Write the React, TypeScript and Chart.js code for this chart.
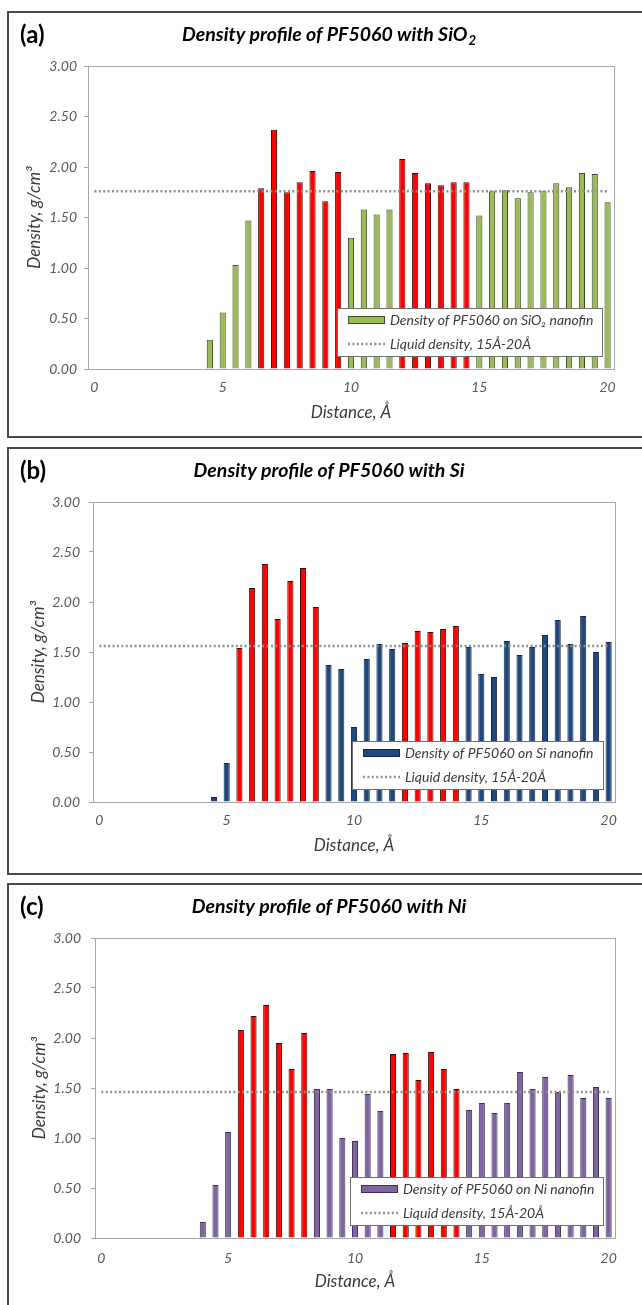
import { useEffect, useRef } from 'react';
import { Chart, registerables } from 'chart.js';

Chart.register(...registerables);

const FONT = 'Lato, "Open Sans", "DejaVu Sans", sans-serif';

// Distance slots along the fin normal (Å), one bar slot every 0.5 Å
const distanceLabels = [
  '0', '0.5', '1', '1.5', '2', '2.5', '3', '3.5', '4', '4.5',
  '5', '5.5', '6', '6.5', '7', '7.5', '8', '8.5', '9', '9.5',
  '10', '10.5', '11', '11.5', '12', '12.5', '13', '13.5', '14', '14.5',
  '15', '15.5', '16', '16.5', '17', '17.5', '18', '18.5', '19', '19.5', '20',
];
const labelledDistances = ['0', '5', '10', '15', '20'];

// Density axis, g/cm³
const densityMin = 0;
const densityMax = 3;
const densityStep = 0.5;

const liquidLabel = 'Liquid density, 15Å-20Å';

// (a) PF5060 on SiO2
const sio2Distance = [
  '4.5', '5', '5.5', '6', '6.5', '7', '7.5', '8', '8.5', '9', '9.5', '10', '10.5', '11', '11.5', '12',
  '12.5', '13', '13.5', '14', '14.5', '15', '15.5', '16', '16.5', '17', '17.5', '18', '18.5', '19', '19.5', '20',
];
const sio2Density = [
  0.29, 0.56, 1.03, 1.47, 1.79, 2.37, 1.75, 1.85, 1.96, 1.66, 1.95, 1.30, 1.58, 1.53, 1.58, 2.08,
  1.94, 1.84, 1.82, 1.85, 1.85, 1.52, 1.76, 1.77, 1.69, 1.75, 1.76, 1.84, 1.80, 1.94, 1.93, 1.65,
];
const sio2Layers = ['6.5', '7', '7.5', '8', '8.5', '9', '9.5', '12', '12.5', '13', '13.5', '14', '14.5'];
const sio2Liquid = 1.76;

// (b) PF5060 on Si
const siDistance = [
  '4.5', '5', '5.5', '6', '6.5', '7', '7.5', '8', '8.5', '9', '9.5', '10', '10.5', '11', '11.5', '12',
  '12.5', '13', '13.5', '14', '14.5', '15', '15.5', '16', '16.5', '17', '17.5', '18', '18.5', '19', '19.5', '20',
];
const siDensity = [
  0.05, 0.39, 1.54, 2.14, 2.38, 1.83, 2.21, 2.34, 1.95, 1.37, 1.33, 0.75, 1.43, 1.58, 1.53, 1.59,
  1.71, 1.70, 1.73, 1.76, 1.55, 1.28, 1.25, 1.61, 1.47, 1.55, 1.67, 1.82, 1.58, 1.86, 1.50, 1.60,
];
const siLayers = ['5.5', '6', '6.5', '7', '7.5', '8', '8.5', '12', '12.5', '13', '13.5', '14'];
const siLiquid = 1.56;

// (c) PF5060 on Ni
const niDistance = [
  '4', '4.5', '5', '5.5', '6', '6.5', '7', '7.5', '8', '8.5', '9', '9.5', '10', '10.5', '11', '11.5', '12',
  '12.5', '13', '13.5', '14', '14.5', '15', '15.5', '16', '16.5', '17', '17.5', '18', '18.5', '19', '19.5', '20',
];
const niDensity = [
  0.16, 0.53, 1.06, 2.08, 2.22, 2.33, 1.95, 1.69, 2.05, 1.49, 1.49, 1.00, 0.97, 1.44, 1.27, 1.84, 1.85,
  1.58, 1.86, 1.69, 1.49, 1.28, 1.35, 1.25, 1.35, 1.66, 1.49, 1.61, 1.46, 1.63, 1.40, 1.51, 1.40,
];
const niLayers = ['5.5', '6', '6.5', '7', '7.5', '8', '11.5', '12', '12.5', '13', '13.5', '14'];
const niLiquid = 1.46;

const layerFill = '#FF0000';
const layerEdge = '#3a0a0a';
const liquidColor = '#8f8f8f';

type PanelSpec = {
  tag: string;
  title: string;
  titleSub: string;
  seriesLabel: string;
  distance: string[];
  density: number[];
  layers: string[];
  liquid: number;
  fill: string;
  edge: string;
  top: number;
  height: number;
  canvasHeight: number;
  chartLeft: number;
  chartTop: number;
  chartRight: number;
  chartBottom: number;
  yTitleX: number;
  yTickPad: number;
  xTickPad: number;
};

const panels: PanelSpec[] = [
  {
    tag: '(a)',
    title: 'Density profile of PF5060 with SiO',
    titleSub: '2',
    seriesLabel: 'Density of PF5060 on SiO\u2082 nanofin',
    distance: sio2Distance,
    density: sio2Density,
    layers: sio2Layers,
    liquid: sio2Liquid,
    fill: '#9BBB59',
    edge: '#3b4a22',
    top: 11,
    height: 427,
    canvasHeight: 422,
    chartLeft: 79,
    chartTop: 53,
    chartRight: 605,
    chartBottom: 356,
    yTitleX: 26,
    yTickPad: 7,
    xTickPad: 10,
  },
  {
    tag: '(b)',
    title: 'Density profile of PF5060 with Si',
    titleSub: '',
    seriesLabel: 'Density of PF5060 on Si nanofin',
    distance: siDistance,
    density: siDensity,
    layers: siLayers,
    liquid: siLiquid,
    fill: '#1F497D',
    edge: '#13294a',
    top: 447,
    height: 428,
    canvasHeight: 423,
    chartLeft: 84,
    chartTop: 53,
    chartRight: 606,
    chartBottom: 353,
    yTitleX: 30,
    yTickPad: 9,
    xTickPad: 10,
  },
  {
    tag: '(c)',
    title: 'Density profile of PF5060 with Ni',
    titleSub: '',
    seriesLabel: 'Density of PF5060 on Ni nanofin',
    distance: niDistance,
    density: niDensity,
    layers: niLayers,
    liquid: niLiquid,
    fill: '#8064A2',
    edge: '#3d2e52',
    top: 883,
    height: 440,
    canvasHeight: 425,
    chartLeft: 86,
    chartTop: 53,
    chartRight: 606,
    chartBottom: 353,
    yTitleX: 31,
    yTickPad: 10,
    xTickPad: 12,
  },
];

const CANVAS_W = 633;

function DensityPanel({ spec }: { spec: PanelSpec }) {
  const ref = useRef<HTMLCanvasElement | null>(null);

  useEffect(() => {
    const canvas = ref.current;
    if (!canvas) return;
    const p = spec;
    const H = p.canvasHeight;
    const xAxisH = H - p.chartBottom;
    const tickFont = { family: FONT, size: 14, style: 'italic' as const };
    const titleFont = { family: FONT, size: 17, style: 'italic' as const, lineHeight: 1.2 };
    const titleHalf = (17 * 1.2) / 2;

    const decor = {
      id: 'panelDecor',
      beforeDatasetsDraw(chart: Chart) {
        const { ctx, chartArea } = chart;
        ctx.save();
        ctx.strokeStyle = '#a6a6a6';
        ctx.lineWidth = 1;
        ctx.strokeRect(
          Math.round(chartArea.left) + 0.5,
          Math.round(chartArea.top) + 0.5,
          Math.round(chartArea.right - chartArea.left),
          Math.round(chartArea.bottom - chartArea.top),
        );
        ctx.restore();
      },
      afterDraw(chart: Chart) {
        const { ctx, chartArea } = chart;
        ctx.save();

        // legend box inside the plot, lower right
        ctx.font = `italic 14px ${FONT}`;
        const textW = Math.max(ctx.measureText(p.seriesLabel).width, ctx.measureText(liquidLabel).width);
        const boxW = Math.round(11 + 37 + 5 + textW + 9);
        const boxH = 48;
        const right = Math.round(chartArea.right - 12);
        const bottom = Math.round(chartArea.bottom - 13);
        const left = right - boxW;
        const top = bottom - boxH;
        ctx.fillStyle = '#ffffff';
        ctx.fillRect(left, top, boxW, boxH);
        ctx.strokeStyle = '#6e6e6e';
        ctx.lineWidth = 1;
        ctx.strokeRect(left + 0.5, top + 0.5, boxW, boxH);

        const sx = left + 11;
        const row1 = top + 12;
        const row2 = top + 36;
        ctx.fillStyle = p.fill;
        ctx.fillRect(sx, row1 - 4, 37, 8);
        ctx.strokeStyle = p.edge;
        ctx.strokeRect(sx + 0.5, row1 - 3.5, 36, 7);

        ctx.strokeStyle = liquidColor;
        ctx.lineWidth = 2.5;
        ctx.setLineDash([2, 2.4]);
        ctx.beginPath();
        ctx.moveTo(sx, row2);
        ctx.lineTo(sx + 37, row2);
        ctx.stroke();
        ctx.setLineDash([]);

        ctx.fillStyle = '#3a3a3a';
        ctx.textAlign = 'left';
        ctx.textBaseline = 'middle';
        ctx.fillText(p.seriesLabel, sx + 42, row1);
        ctx.fillText(liquidLabel, sx + 42, row2);

        // panel tag and heading
        const headY = chartArea.top - 31;
        ctx.fillStyle = '#000000';
        ctx.font = `bold 24px ${FONT}`;
        ctx.fillText(p.tag, 11, headY);

        ctx.font = `italic bold 19.5px ${FONT}`;
        const mainW = ctx.measureText(p.title).width;
        ctx.font = `italic bold 13px ${FONT}`;
        const subW = p.titleSub ? ctx.measureText(p.titleSub).width + 1 : 0;
        const startX = 320 - (mainW + subW) / 2;
        ctx.font = `italic bold 19.5px ${FONT}`;
        ctx.fillText(p.title, startX, headY);
        if (p.titleSub) {
          ctx.font = `italic bold 13px ${FONT}`;
          ctx.fillText(p.titleSub, startX + mainW + 1, headY + 6);
        }
        ctx.restore();
      },
    };

    const chart = new Chart(canvas, {
      type: 'bar',
      data: {
        labels: distanceLabels,
        datasets: [
          {
            type: 'line',
            label: liquidLabel,
            data: [
              { x: '0', y: p.liquid },
              { x: '20', y: p.liquid },
            ],
            borderColor: liquidColor,
            borderWidth: 2.5,
            borderDash: [2, 2.4],
            pointRadius: 0,
            fill: false,
          } as any,
          {
            type: 'bar',
            label: p.seriesLabel,
            data: p.distance.map((d, i) => ({ x: d, y: p.density[i] })),
            backgroundColor: p.distance.map((d) => (p.layers.includes(d) ? layerFill : p.fill)),
            borderColor: p.distance.map((d) => (p.layers.includes(d) ? layerEdge : p.edge)),
            borderWidth: 1,
            barPercentage: 0.48,
            categoryPercentage: 1,
          } as any,
        ],
      },
      options: {
        responsive: false,
        animation: false,
        events: [],
        layout: {
          padding: { left: 0, top: p.chartTop, right: CANVAS_W - p.chartRight, bottom: 0 },
        },
        plugins: {
          legend: { display: false },
          tooltip: { enabled: false },
          title: { display: false },
        },
        scales: {
          x: {
            type: 'category',
            offset: true,
            grid: { display: false, drawTicks: false },
            border: { display: false },
            ticks: {
              autoSkip: false,
              maxRotation: 0,
              minRotation: 0,
              padding: p.xTickPad,
              color: '#595959',
              font: tickFont,
              callback: (_v: any, i: number) =>
                labelledDistances.includes(distanceLabels[i]) ? distanceLabels[i] : '',
            },
            title: {
              display: true,
              text: 'Distance, Å',
              color: '#3a3a3a',
              font: titleFont,
              padding: { top: 0, bottom: xAxisH - 44 - titleHalf },
            },
            afterFit: (s: any) => {
              s.height = xAxisH;
            },
          },
          y: {
            min: densityMin,
            max: densityMax,
            grid: {
              display: true,
              drawOnChartArea: false,
              drawTicks: true,
              tickLength: 4,
              color: '#a6a6a6',
            },
            border: { display: false },
            ticks: {
              stepSize: densityStep,
              padding: p.yTickPad,
              color: '#595959',
              font: tickFont,
              callback: (v: any) => Number(v).toFixed(2),
            },
            title: {
              display: true,
              text: 'Density, g/cm³',
              color: '#3a3a3a',
              font: titleFont,
              padding: { top: p.yTitleX - titleHalf, bottom: 0 },
            },
            afterFit: (s: any) => {
              s.width = p.chartLeft;
            },
          },
        },
      },
      plugins: [decor],
    });

    return () => chart.destroy();
  }, [spec]);

  return (
    <div
      style={{
        position: 'absolute',
        left: 7,
        top: spec.top,
        width: 700,
        height: spec.height,
        border: '2px solid #4a4a4a',
        boxSizing: 'border-box',
        background: '#ffffff',
      }}
    >
      <canvas
        ref={ref}
        width={CANVAS_W}
        height={spec.canvasHeight}
        style={{ position: 'absolute', left: 0, top: 0, width: CANVAS_W, height: spec.canvasHeight }}
      />
    </div>
  );
}

export default function App() {
  return (
    <div
      style={{
        position: 'fixed',
        left: 0,
        top: 0,
        width: 642,
        height: 1305,
        overflow: 'hidden',
        background: '#ffffff',
      }}
    >
      {panels.map((spec) => (
        <DensityPanel key={spec.tag} spec={spec} />
      ))}
    </div>
  );
}
